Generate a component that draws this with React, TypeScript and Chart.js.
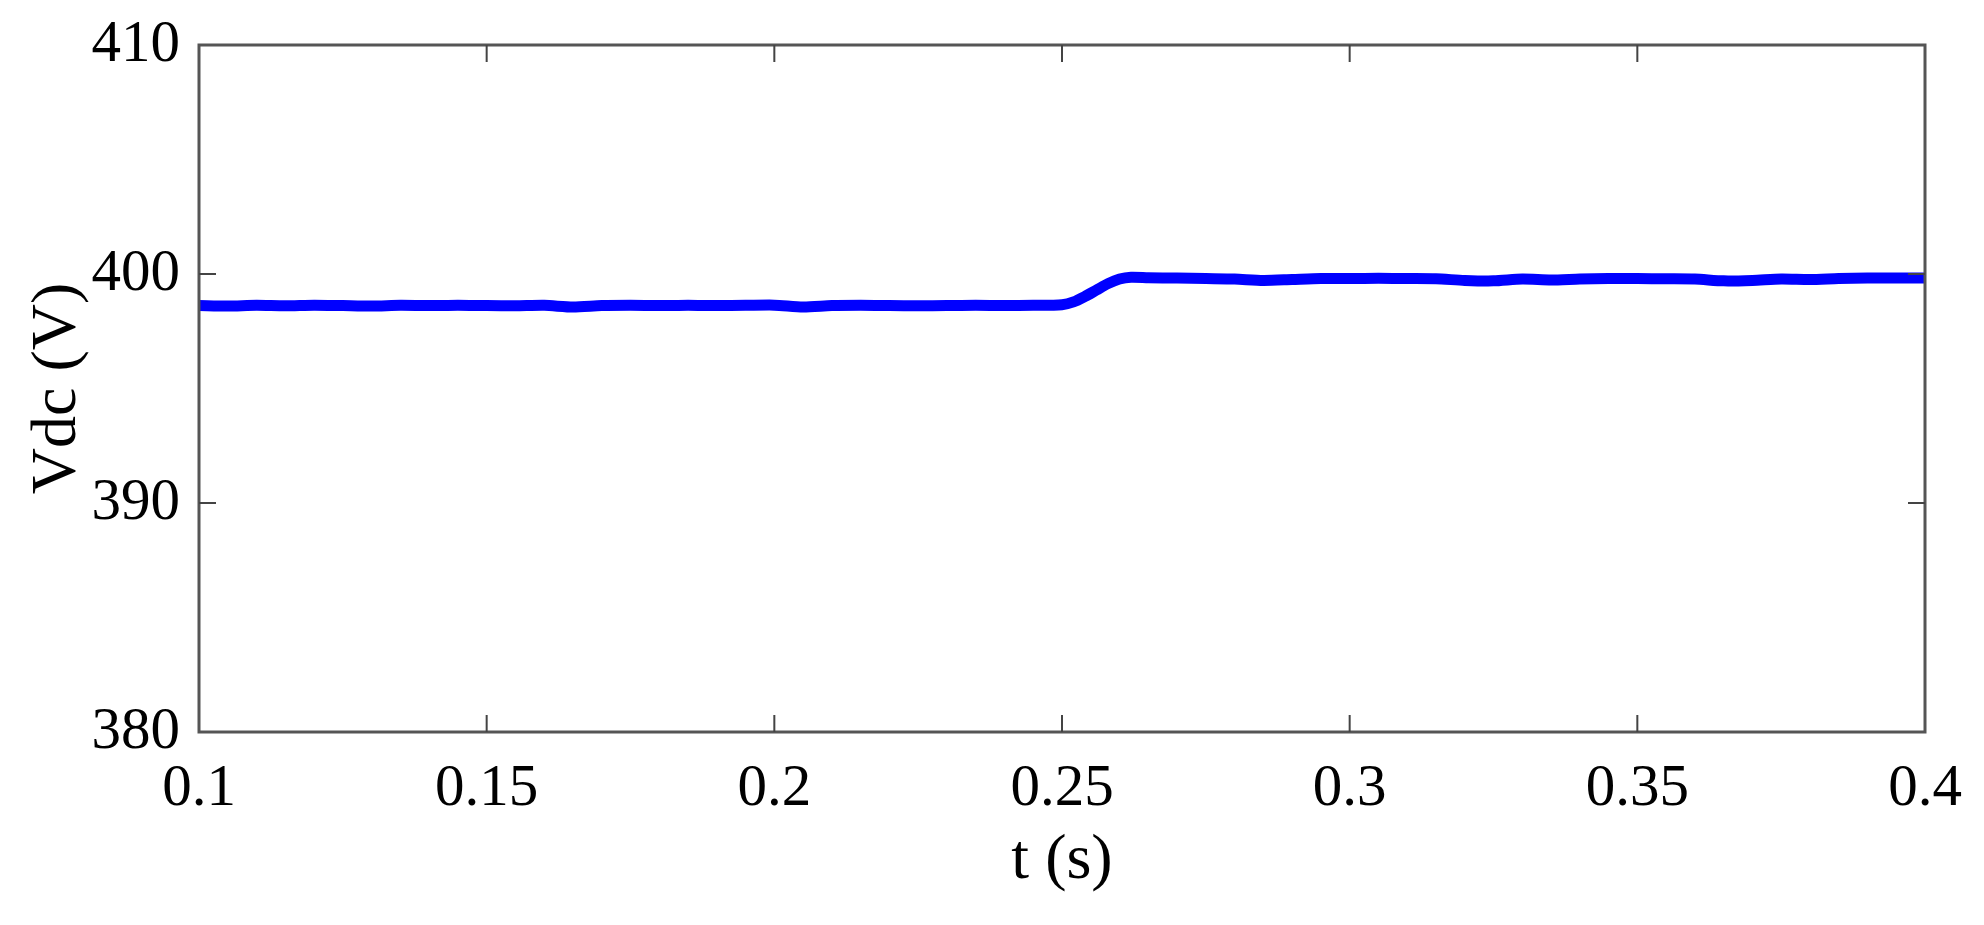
import React, { useEffect, useRef } from "react";
import { Chart, registerables } from "chart.js";

Chart.register(...registerables);

const timeS: number[] = [
  0.1, 0.105, 0.11, 0.115, 0.12, 0.125, 0.13, 0.135, 0.14, 0.145,
  0.15, 0.155, 0.16, 0.165, 0.17, 0.175, 0.18, 0.185, 0.19, 0.195,
  0.2, 0.205, 0.21, 0.215, 0.22, 0.225, 0.23, 0.235, 0.24, 0.245,
  0.25, 0.252, 0.254, 0.256, 0.258, 0.26, 0.262, 0.265, 0.27, 0.275,
  0.28, 0.285, 0.29, 0.295, 0.3, 0.305, 0.31, 0.315, 0.32, 0.325,
  0.33, 0.335, 0.34, 0.345, 0.35, 0.355, 0.36, 0.365, 0.37, 0.375,
  0.38, 0.385, 0.39, 0.395, 0.4,
];

const vdc: number[] = [
  398.62, 398.6, 398.63, 398.61, 398.64, 398.62, 398.6, 398.63, 398.62, 398.64,
  398.62, 398.61, 398.63, 398.56, 398.62, 398.63, 398.62, 398.64, 398.62, 398.63,
  398.64, 398.56, 398.62, 398.63, 398.62, 398.61, 398.62, 398.63, 398.62, 398.63,
  398.66, 398.78, 399.02, 399.3, 399.58, 399.78, 399.86, 399.84, 399.82, 399.8,
  399.78, 399.72, 399.76, 399.8, 399.8, 399.81, 399.8, 399.79, 399.72, 399.7,
  399.78, 399.74, 399.78, 399.8, 399.8, 399.79, 399.78, 399.7, 399.72, 399.78,
  399.76, 399.8, 399.82, 399.82, 399.82,
];

const xTicks: number[] = [0.1, 0.15, 0.2, 0.25, 0.3, 0.35, 0.4];
const xTickLabels: string[] = ["0.1", "0.15", "0.2", "0.25", "0.3", "0.35", "0.4"];
const yTicks: number[] = [380, 390, 400, 410];
const yTickLabels: string[] = ["380", "390", "400", "410"];

const FONT = "'Liberation Serif', 'Times New Roman', serif";

const framePlugin = {
  id: "framePlugin",
  afterDraw(chart: any) {
    const { ctx, chartArea } = chart;
    const { left, right, top, bottom } = chartArea;
    const xs = chart.scales.x;
    const ys = chart.scales.y;
    const tl = 17;
    ctx.save();
    ctx.strokeStyle = "#555555";
    ctx.lineWidth = 3;
    ctx.strokeRect(left, top, right - left, bottom - top);
    ctx.lineWidth = 2;
    ctx.strokeStyle = "#444444";
    ctx.beginPath();
    xTicks.forEach((v) => {
      const px = xs.getPixelForValue(v);
      if (px <= left + 2 || px >= right - 2) return;
      ctx.moveTo(px, bottom);
      ctx.lineTo(px, bottom - tl);
      ctx.moveTo(px, top);
      ctx.lineTo(px, top + tl);
    });
    yTicks.forEach((v) => {
      const py = ys.getPixelForValue(v);
      if (py <= top + 2 || py >= bottom - 2) return;
      ctx.moveTo(left, py);
      ctx.lineTo(left + tl, py);
      ctx.moveTo(right, py);
      ctx.lineTo(right - tl, py);
    });
    ctx.stroke();
    ctx.restore();
  },
};

export default function App() {
  const ref = useRef<HTMLCanvasElement | null>(null);
  useEffect(() => {
    document.body.style.margin = "0";
    const canvas = ref.current;
    if (!canvas) return;
    const chart = new Chart(canvas, {
      type: "line",
      data: {
        datasets: [
          {
            data: timeS.map((t, i) => ({ x: t, y: vdc[i] })),
            borderColor: "#0000ff",
            borderWidth: 11,
            pointRadius: 0,
            tension: 0.25,
            fill: false,
            clip: 6,
          },
        ],
      },
      plugins: [framePlugin],
      options: {
        animation: false,
        responsive: false,
        maintainAspectRatio: false,
        layout: { padding: { left: 0, top: 45, right: 59, bottom: 0 } },
        plugins: { legend: { display: false }, tooltip: { enabled: false } },
        scales: {
          x: {
            type: "linear",
            min: 0.1,
            max: 0.4,
            afterFit: (s: any) => {
              s.height = 193;
              s.paddingLeft = 0;
              s.paddingRight = 0;
            },
            afterBuildTicks: (s: any) => {
              s.ticks = xTicks.map((v) => ({ value: v }));
            },
            grid: { display: false, drawTicks: false },
            border: { display: false },
            ticks: {
              color: "#000",
              padding: 22,
              maxRotation: 0,
              font: { family: FONT, size: 59 },
              callback: (v: any) => {
                const i = xTicks.findIndex((t) => Math.abs(t - Number(v)) < 1e-9);
                return i >= 0 ? xTickLabels[i] : "";
              },
            },
            title: {
              display: true,
              text: "t (s)",
              color: "#000",
              font: { family: FONT, size: 64 },
              padding: { top: 0, bottom: 25 },
            },
          },
          y: {
            type: "linear",
            min: 380,
            max: 410,
            afterFit: (s: any) => {
              s.width = 199;
              s.paddingTop = 0;
              s.paddingBottom = 0;
            },
            afterBuildTicks: (s: any) => {
              s.ticks = yTicks.map((v) => ({ value: v }));
            },
            grid: { display: false, drawTicks: false },
            border: { display: false },
            ticks: {
              color: "#000",
              padding: 19,
              font: { family: FONT, size: 59 },
              callback: (v: any) => {
                const i = yTicks.findIndex((t) => Math.abs(t - Number(v)) < 1e-9);
                return i >= 0 ? yTickLabels[i] : "";
              },
            },
            title: {
              display: true,
              text: "Vdc (V)",
              color: "#000",
              font: { family: FONT, size: 64 },
              padding: { top: 20, bottom: 0 },
            },
          },
        },
      },
    });
    return () => chart.destroy();
  }, []);
  return (
    <div style={{ position: "absolute", left: 0, top: 0, width: 1984, height: 925, background: "#fff" }}>
      <canvas ref={ref} width={1984} height={925} style={{ width: 1984, height: 925 }} />
    </div>
  );
}
